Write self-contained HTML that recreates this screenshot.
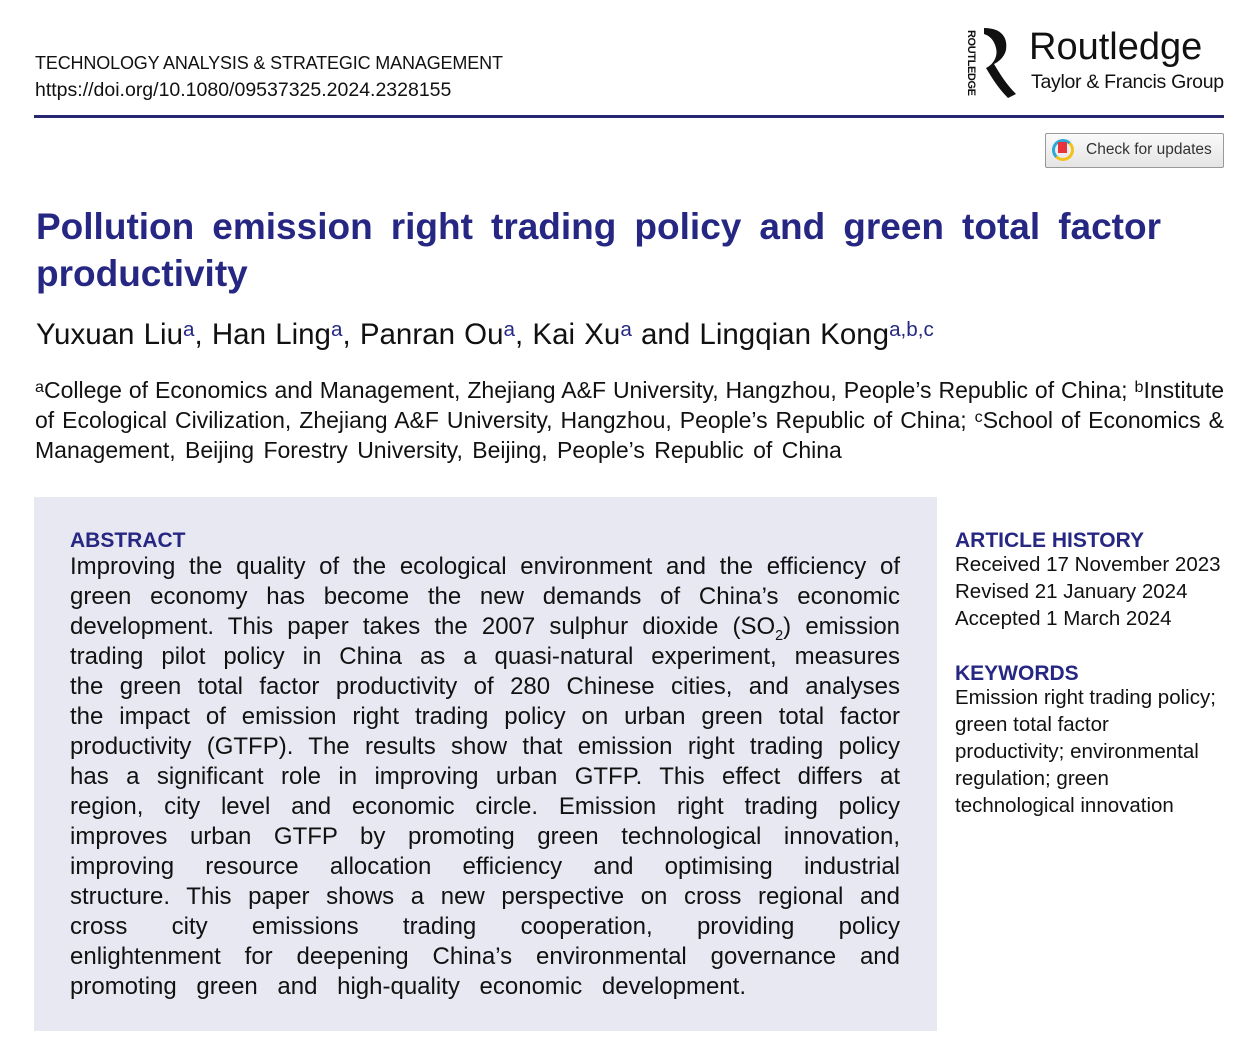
<!DOCTYPE html>
<html><head><meta charset="utf-8">
<style>
body{margin:0;background:#fff;}
#p{position:relative;width:1255px;height:1047px;overflow:hidden;font-family:"Liberation Sans",sans-serif;color:#111;}
.l{position:absolute;white-space:nowrap;line-height:1;}
.j{text-align:justify;text-align-last:justify;white-space:normal;}
.b{color:#262782;}
sup{font-size:70%;vertical-align:0;position:relative;top:-0.4em;}
</style></head><body><div id="p">
<div class="l" style="left:35px;top:54px;font-size:18px;letter-spacing:-0.15px;">TECHNOLOGY ANALYSIS &amp; STRATEGIC MANAGEMENT</div>
<div class="l" style="left:35px;top:81px;font-size:19.5px;">https://doi.org/10.1080/09537325.2024.2328155</div>

<svg style="position:absolute;left:964px;top:26px" width="60" height="74">
<text x="0" y="0" transform="translate(4,4) rotate(90)" font-family="Liberation Sans" font-weight="bold" font-size="11" fill="#111" textLength="66">ROUTLEDGE</text>
<path d="M20 2 C38 2 44 12 42 24 C40 32 34 36 30 38 C36 48 42 58 52 68 L44 72 C34 62 28 52 22 42 C30 38 34 30 32 22 C30 14 26 10 20 8 Z" fill="#111"/>
</svg>
<div class="l" style="left:1029px;top:28px;font-size:38px;color:#111;">Routledge</div>
<div class="l" style="left:1031px;top:73px;font-size:19.5px;letter-spacing:-0.3px;">Taylor &amp; Francis Group</div>
<div style="position:absolute;left:34px;top:115px;width:1190px;height:3px;background:#262770;"></div>

<div style="position:absolute;left:1045px;top:133px;width:177px;height:33px;border:1px solid #999;border-radius:2px;background:linear-gradient(#fafafa,#e4e4e4);"></div>
<div style="position:absolute;left:1052px;top:139px;width:16px;height:16px;border-radius:50%;border:3px solid #f2c21b;border-left-color:#2aa8d8;border-top-color:#2aa8d8;"></div>
<div style="position:absolute;left:1058px;top:142px;width:9px;height:11px;background:#e8323c;"></div>
<div class="l" style="left:1086px;top:142px;font-size:15.5px;color:#333;">Check for updates</div>

<div class="l j b" style="left:36px;top:208px;width:1125px;font-size:37px;font-weight:bold;">Pollution emission right trading policy and green total factor</div>
<div class="l b" style="left:36px;top:255px;font-size:37px;font-weight:bold;">productivity</div>

<div class="l" style="left:36px;top:320px;font-size:29.5px;word-spacing:1px;">Yuxuan Liu<sup class="b">a</sup>, Han Ling<sup class="b">a</sup>, Panran Ou<sup class="b">a</sup>, Kai Xu<sup class="b">a</sup> and Lingqian Kong<sup class="b">a,b,c</sup></div>

<div class="l j" style="left:35px;top:379px;width:1189px;font-size:23px;"><sup>a</sup>College of Economics and Management, Zhejiang A&amp;F University, Hangzhou, People’s Republic of China; <sup>b</sup>Institute</div>
<div class="l j" style="left:35px;top:409px;width:1189px;font-size:23px;">of Ecological Civilization, Zhejiang A&amp;F University, Hangzhou, People’s Republic of China; <sup>c</sup>School of Economics &amp;</div>
<div class="l" style="left:35px;top:439px;font-size:23px;word-spacing:3px;">Management, Beijing Forestry University, Beijing, People’s Republic of China</div>

<div style="position:absolute;left:34px;top:497px;width:903px;height:534px;background:#e8e8f2;"></div>
<div class="l b" style="left:70px;top:530px;font-size:21px;font-weight:bold;">ABSTRACT</div>
<div style="position:absolute;left:70px;top:555px;width:830px;font-size:24px;">
<div class="l j" style="position:relative;height:30px;width:830px;">Improving the quality of the ecological environment and the efficiency of</div>
<div class="l j" style="position:relative;height:30px;width:830px;">green economy has become the new demands of China’s economic</div>
<div class="l j" style="position:relative;height:30px;width:830px;">development. This paper takes the 2007 sulphur dioxide (SO<sub style="font-size:60%">2</sub>) emission</div>
<div class="l j" style="position:relative;height:30px;width:830px;">trading pilot policy in China as a quasi-natural experiment, measures</div>
<div class="l j" style="position:relative;height:30px;width:830px;">the green total factor productivity of 280 Chinese cities, and analyses</div>
<div class="l j" style="position:relative;height:30px;width:830px;">the impact of emission right trading policy on urban green total factor</div>
<div class="l j" style="position:relative;height:30px;width:830px;">productivity (GTFP). The results show that emission right trading policy</div>
<div class="l j" style="position:relative;height:30px;width:830px;">has a significant role in improving urban GTFP. This effect differs at</div>
<div class="l j" style="position:relative;height:30px;width:830px;">region, city level and economic circle. Emission right trading policy</div>
<div class="l j" style="position:relative;height:30px;width:830px;">improves urban GTFP by promoting green technological innovation,</div>
<div class="l j" style="position:relative;height:30px;width:830px;">improving resource allocation efficiency and optimising industrial</div>
<div class="l j" style="position:relative;height:30px;width:830px;">structure. This paper shows a new perspective on cross regional and</div>
<div class="l j" style="position:relative;height:30px;width:830px;">cross city emissions trading cooperation, providing policy</div>
<div class="l j" style="position:relative;height:30px;width:830px;">enlightenment for deepening China’s environmental governance and</div>
<div class="l j" style="position:relative;height:30px;width:676px;">promoting green and high-quality economic development.</div>
</div>

<div class="l b" style="left:955px;top:530px;font-size:21px;font-weight:bold;">ARTICLE HISTORY</div>
<div class="l" style="left:955px;top:555px;font-size:20.5px;">Received 17 November 2023</div>
<div class="l" style="left:955px;top:582px;font-size:20.5px;">Revised 21 January 2024</div>
<div class="l" style="left:955px;top:609px;font-size:20.5px;">Accepted 1 March 2024</div>
<div class="l b" style="left:955px;top:663px;font-size:21px;font-weight:bold;">KEYWORDS</div>
<div class="l" style="left:955px;top:688px;font-size:20.5px;">Emission right trading policy;</div>
<div class="l" style="left:955px;top:715px;font-size:20.5px;">green total factor</div>
<div class="l" style="left:955px;top:742px;font-size:20.5px;">productivity; environmental</div>
<div class="l" style="left:955px;top:769px;font-size:20.5px;">regulation; green</div>
<div class="l" style="left:955px;top:796px;font-size:20.5px;">technological innovation</div>
</div></body></html>
